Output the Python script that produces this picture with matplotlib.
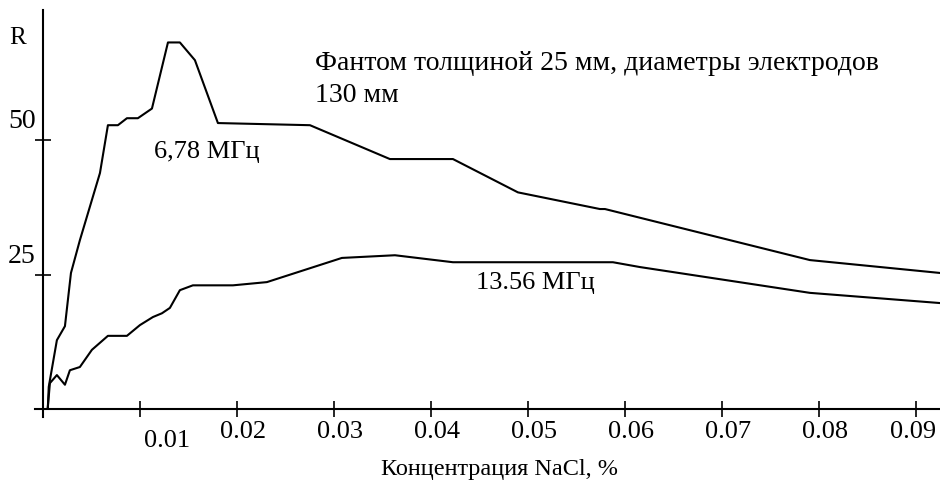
import matplotlib
matplotlib.use("Agg")
import matplotlib.pyplot as plt
from matplotlib.transforms import ScaledTranslation

plt.rcParams['font.family'] = ['Liberation Serif', 'DejaVu Serif']

# 6,78 MHz
x_678 = [0.0005, 0.0006, 0.00144, 0.00227, 0.00289, 0.00381, 0.00588, 0.0067,
         0.00773, 0.00866, 0.00979, 0.01124, 0.01289, 0.01412, 0.01567, 0.01804,
         0.02753, 0.03577, 0.04227, 0.04897, 0.05742, 0.05794, 0.07907, 0.0925]
r_678 = [0.0, 4.1, 12.8, 15.4, 25.3, 31.4, 43.9, 52.8,
         52.8, 54.1, 54.1, 55.9, 68.2, 68.2, 64.9, 53.2,
         52.8, 46.5, 46.5, 40.3, 37.2, 37.2, 27.7, 25.3]

# 13.56 MHz
x_1356 = [0.0005, 0.00072, 0.00144, 0.00227, 0.00278, 0.00381, 0.00505, 0.0067,
          0.00866, 0.0100, 0.01134, 0.01227, 0.01309, 0.01412, 0.01546, 0.01959,
          0.02309, 0.03082, 0.03629, 0.04227, 0.05876, 0.06155, 0.07907, 0.0925]
r_1356 = [0.2, 4.8, 6.3, 4.5, 7.2, 7.8, 11.0, 13.6,
          13.6, 15.6, 17.1, 17.8, 18.8, 22.1, 23.0, 23.0,
          23.6, 28.1, 28.6, 27.3, 27.3, 26.4, 21.6, 19.7]

x_ticks = [0.01, 0.02, 0.03, 0.04, 0.05, 0.06, 0.07, 0.08, 0.09]
y_ticks = [25, 50]

fig = plt.figure(figsize=(9.4, 4.86), dpi=100)
ax = fig.add_axes([0.0372, 0.142, 0.963, 0.837])

ax.plot(x_678, r_678, color='black', lw=1.5)
ax.plot(x_1356, r_1356, color='black', lw=1.5)

ax.set_xlim(-0.00082, 0.0925)
ax.set_ylim(-1.5, 74.2)

for s in ['top', 'right']:
    ax.spines[s].set_visible(False)
ax.spines['left'].set_position(('data', 0))
ax.spines['bottom'].set_position(('data', 0))
ax.spines['left'].set_linewidth(1.5)
ax.spines['bottom'].set_linewidth(1.5)

ax.set_xticks(x_ticks)
ax.set_xticklabels([f'{t:.2f}' for t in x_ticks])
ax.set_yticks(y_ticks)
ax.tick_params(direction='inout', length=12, width=1.2)
ax.tick_params(axis='x', pad=3, labelsize=19)
ax.tick_params(axis='y', pad=-1, labelsize=20)

for lbl in ax.get_xticklabels():
    dx, dy = 6 / 100, 0
    if lbl.get_text() == '0.01':
        dx, dy = 27 / 100, -9 / 100
    elif lbl.get_text() == '0.09':
        dx = -3 / 100
    lbl.set_transform(lbl.get_transform() + ScaledTranslation(dx, dy, fig.dpi_scale_trans))
for lbl in ax.get_yticklabels():
    lbl.set_verticalalignment('bottom')
    lbl.set_transform(lbl.get_transform() + ScaledTranslation(0, 6 / 100, fig.dpi_scale_trans))

ax.set_xlabel('Концентрация NaCl, %', fontsize=17.5)
ax.xaxis.set_label_coords(0.513, -0.103)

fig.text(18 / 940, 1 - 38 / 486, 'R', fontsize=18, ha='center', va='center')

ax.text(0.0169, 47.8, '6,78 МГц', fontsize=19, ha='center', va='center')
ax.text(0.0508, 23.4, '13.56 МГц', fontsize=19, ha='center', va='center')
ax.text(0.0280, 66.6, 'Фантом толщиной 25 мм, диаметры электродов\n130 мм',
        fontsize=20, ha='left', va='top', linespacing=1.35)

fig.savefig('out.png', dpi=100)
